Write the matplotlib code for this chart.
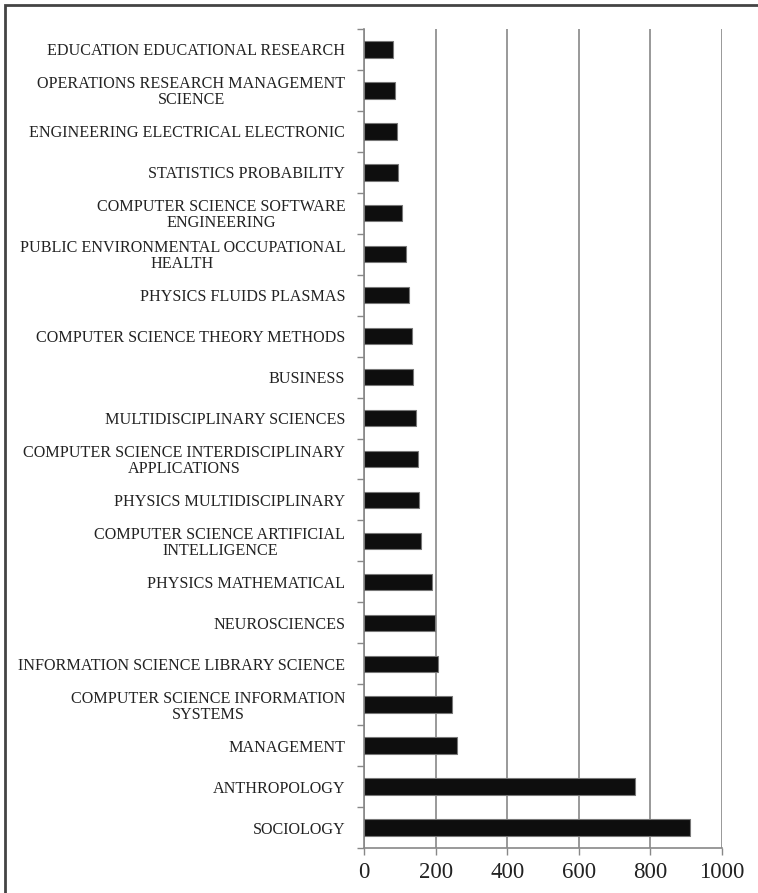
import matplotlib
matplotlib.use("Agg")
import matplotlib.pyplot as plt
from matplotlib.patches import Rectangle
import numpy as np

categories = [
    "EDUCATION EDUCATIONAL RESEARCH",
    "OPERATIONS RESEARCH MANAGEMENT\nSCIENCE",
    "ENGINEERING ELECTRICAL ELECTRONIC",
    "STATISTICS PROBABILITY",
    "COMPUTER SCIENCE SOFTWARE\nENGINEERING",
    "PUBLIC ENVIRONMENTAL OCCUPATIONAL\nHEALTH",
    "PHYSICS FLUIDS PLASMAS",
    "COMPUTER SCIENCE THEORY METHODS",
    "BUSINESS",
    "MULTIDISCIPLINARY SCIENCES",
    "COMPUTER SCIENCE INTERDISCIPLINARY\nAPPLICATIONS",
    "PHYSICS MULTIDISCIPLINARY",
    "COMPUTER SCIENCE ARTIFICIAL\nINTELLIGENCE",
    "PHYSICS MATHEMATICAL",
    "NEUROSCIENCES",
    "INFORMATION SCIENCE LIBRARY SCIENCE",
    "COMPUTER SCIENCE INFORMATION\nSYSTEMS",
    "MANAGEMENT",
    "ANTHROPOLOGY",
    "SOCIOLOGY",
]
values = [82, 87, 91, 94, 107, 116, 126, 133, 138, 144,
          152, 155, 158, 191, 198, 208, 247, 259, 758, 911]
xticks = [0, 200, 400, 600, 800, 1000]

plt.rcParams['font.family'] = ['Liberation Serif', 'DejaVu Serif']

fig = plt.figure(figsize=(7.58, 8.93), dpi=100)
ax = fig.add_axes([364/758, 1-848/893, (722-364)/758, (848-29)/893])

n = len(categories)
ypos = np.arange(n)
ax.barh(ypos, values, height=0.4, color='#0e0e0e', edgecolor='#777777', linewidth=0.8, zorder=3)
ax.set_ylim(n - 0.5, -0.5)
ax.set_xlim(0, 1000)
ax.set_xticks(xticks)
ax.set_xticklabels([str(t) for t in xticks], fontsize=16.5, color='#222222')
ax.set_yticks(ypos)
ax.set_yticklabels(categories, fontsize=11.6, color='#222222',
                   multialignment='center', linespacing=1.0)
ax.set_yticks(np.arange(n + 1) - 0.5, minor=True)
ax.tick_params(axis='y', which='major', length=0, pad=13.5)
ax.tick_params(axis='y', which='minor', length=5, color='#888888', width=1)
ax.tick_params(axis='x', which='major', length=5, color='#888888', width=1, pad=5)

ax.grid(axis='x', color='#888888', linewidth=1.2, zorder=0)
for s in ['top', 'right']:
    ax.spines[s].set_visible(False)
for s in ['left', 'bottom']:
    ax.spines[s].set_color('#888888')
    ax.spines[s].set_linewidth(1.2)

fig.patches.append(Rectangle((5/758, -0.1), 1.2, 1 - 5/893 + 0.1, transform=fig.transFigure,
                             fill=False, edgecolor='#444444', linewidth=2, zorder=10))

fig.savefig("out.png", dpi=100)
